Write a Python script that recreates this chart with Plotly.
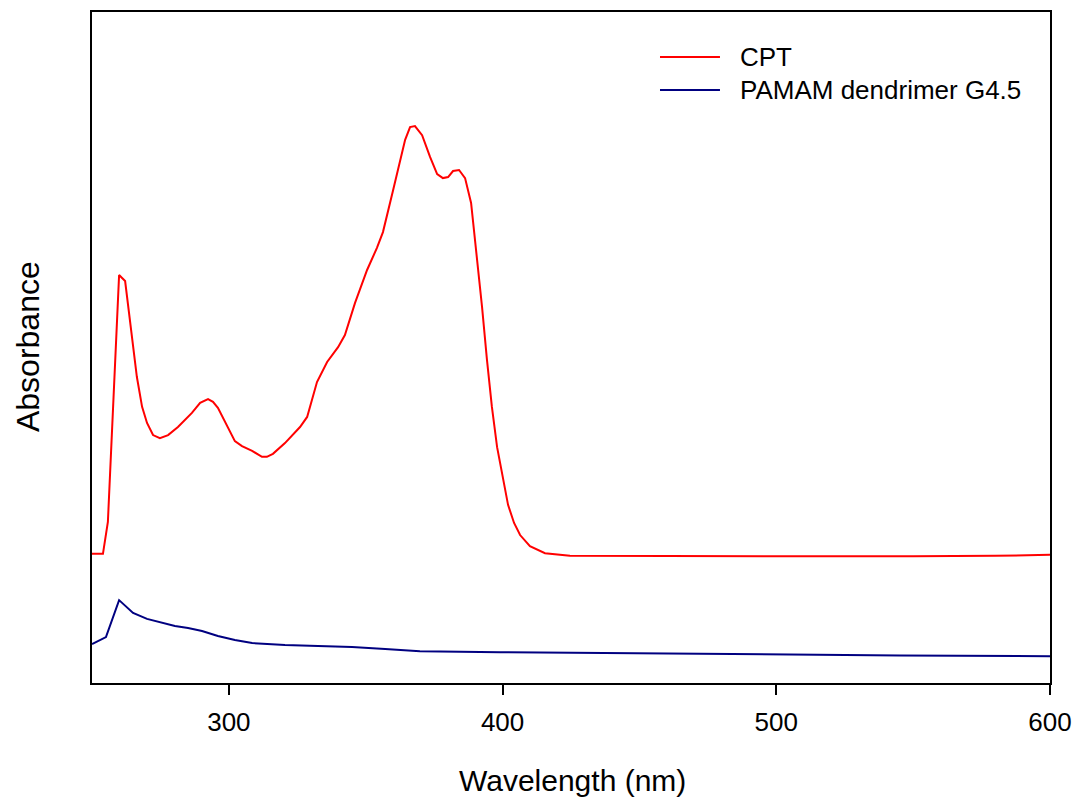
import plotly.graph_objects as go

# CPT spectrum (wavelength nm, absorbance a.u.)
cpt_wl = [250.0, 254.0, 255.8, 258.0, 259.9, 262.1, 263.9, 266.4, 268.3, 270.1,
          272.3, 274.8, 277.8, 281.4, 286.5, 289.5, 292.4, 294.2, 296.0, 299.3,
          302.2, 304.8, 308.5, 312.1, 313.9, 316.1, 320.5, 326.0, 328.6, 332.2,
          335.9, 339.9, 342.4, 346.1, 350.5, 354.1, 356.3, 360.0, 362.5, 364.4,
          366.2, 368.0, 370.6, 373.5, 376.1, 378.2, 380.1, 381.9, 384.1, 386.3,
          388.5, 390.3, 392.5, 394.3, 396.1, 398.0, 400.2, 402.0, 404.2, 406.4,
          410.0, 415.5, 424.6, 450.0, 500.0, 550.0, 580.0, 600.0]
cpt_abs = [0.385, 0.385, 0.480, 0.903, 1.216, 1.198, 1.073, 0.912, 0.823, 0.775,
           0.739, 0.730, 0.739, 0.763, 0.805, 0.835, 0.846, 0.838, 0.820, 0.769,
           0.721, 0.706, 0.692, 0.674, 0.674, 0.683, 0.715, 0.763, 0.793, 0.897,
           0.957, 1.001, 1.037, 1.133, 1.231, 1.297, 1.344, 1.469, 1.559, 1.619,
           1.657, 1.660, 1.633, 1.568, 1.517, 1.505, 1.508, 1.526, 1.529, 1.505,
           1.431, 1.300, 1.121, 0.963, 0.823, 0.703, 0.605, 0.531, 0.477, 0.441,
           0.408, 0.387, 0.379, 0.378, 0.378, 0.378, 0.379, 0.382]

# PAMAM dendrimer G4.5 spectrum
pam_wl = [250.0, 255.1, 259.9, 265.0, 270.1, 275.6, 280.3, 285.1, 290.2, 296.0,
          302.2, 308.5, 314.3, 320.5, 332.6, 345.0, 357.1, 369.8, 399.1, 435.6,
          472.1, 508.7, 545.2, 600.0]
pam_abs = [0.116, 0.137, 0.247, 0.209, 0.191, 0.179, 0.170, 0.164, 0.155, 0.140,
           0.128, 0.119, 0.116, 0.113, 0.110, 0.107, 0.101, 0.095, 0.092, 0.089,
           0.086, 0.083, 0.082, 0.080]

x_ticks = [300, 400, 500, 600]
series_names = ["CPT", "PAMAM dendrimer G4.5"]
series_colors = ["#FF0000", "#000080"]

FONT = "Arial, 'Liberation Sans', sans-serif"

fig = go.Figure()
fig.add_trace(go.Scatter(x=cpt_wl, y=cpt_abs, mode="lines", name=series_names[0],
                         line=dict(color=series_colors[0], width=2), showlegend=False))
fig.add_trace(go.Scatter(x=pam_wl, y=pam_abs, mode="lines", name=series_names[1],
                         line=dict(color=series_colors[1], width=2), showlegend=False))

# manual legend
leg_y = [0.9329, 0.8838]
for name, color, yy in zip(series_names, series_colors, leg_y):
    fig.add_shape(type="line", xref="paper", yref="paper", x0=0.5929, x1=0.6555,
                  y0=yy, y1=yy, line=dict(color=color, width=2))
    fig.add_annotation(xref="paper", yref="paper", x=0.6745, y=yy, text=name,
                       showarrow=False, xanchor="left", yanchor="middle",
                       font=dict(family=FONT, size=26, color="black"))

# axis titles
fig.add_annotation(xref="paper", yref="paper", x=0.5016, y=-0.1446, text="Wavelength (nm)",
                   showarrow=False, xanchor="center", yanchor="middle",
                   font=dict(family=FONT, size=30, color="black"))
fig.add_annotation(xref="paper", yref="paper", x=-0.0668, y=0.5007, text="Absorbance",
                   showarrow=False, xanchor="center", yanchor="middle", textangle=-90,
                   font=dict(family=FONT, size=32, color="black"))

fig.update_layout(
    width=1077, height=799,
    margin=dict(l=92, r=27, t=12, b=116, autoexpand=False),
    paper_bgcolor="white", plot_bgcolor="white",
    font=dict(family=FONT, color="black"),
)
fig.update_xaxes(range=[250, 600], tickvals=x_ticks, ticks="outside", ticklen=10,
                 tickwidth=1.5, tickcolor="black", showline=True, linecolor="black",
                 linewidth=1.5, mirror=True, showgrid=False, zeroline=False,
                 automargin=False, ticklabelstandoff=5,
                 tickfont=dict(family=FONT, size=26, color="black"))
fig.update_yaxes(range=[0, 2], showticklabels=False, ticks="", showline=True,
                 linecolor="black", linewidth=1.5, mirror=True, showgrid=False,
                 zeroline=False, automargin=False)

fig.write_html(
    "out.html",
    config={"displayModeBar": False},
    post_script="document.body.style.margin='0';document.body.style.padding='0';"
                "document.body.style.overflow='hidden';",
)
